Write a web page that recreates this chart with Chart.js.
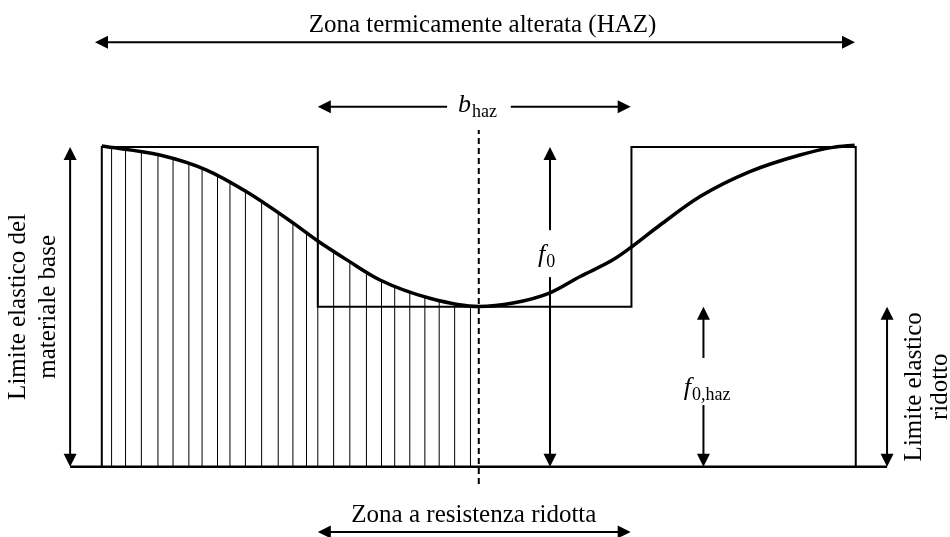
<!DOCTYPE html>
<html>
<head>
<meta charset="utf-8">
<title>Zona termicamente alterata (HAZ)</title>
<script src="https://cdn.jsdelivr.net/npm/chart.js@4.4.1/dist/chart.umd.min.js"></script>
<style>
  html, body { margin: 0; padding: 0; background: #fff; }
  #wrap { width: 950px; height: 537px; position: relative; }
  canvas { background: #fff; }
</style>
</head>
<body>
<div id="wrap"><canvas id="hazChart"></canvas></div>
<script>
// x: distance from weld axis, y: yield strength in % of f0
// nominal (design) profile: full strength outside, reduced in b_haz
const stepX = [-100, -100, -42.7, -42.7, 40.5, 40.5, 100, 100];
const stepY = [0, 100, 100, 50, 50, 100, 100, 0];

// actual strength across the HAZ
const curveX = [-100, -84.6, -72.2, -61.6, -49.2, -42.7, -35.0, -26.2, -13.0, 0, 9.1, 18.9, 26.9, 35.6, 40.6, 48.1, 58.7, 71.9, 85.2, 93.9, 99.7];
const curveY = [100.3, 97.5, 92.8, 86.0, 76.2, 70.6, 64.7, 58.4, 52.7, 50.1, 51.2, 54.4, 59.5, 64.7, 68.8, 75.6, 84.5, 92.3, 97.5, 99.9, 100.6];

// hatching under the left half of the curve
const hatchX = [-97.4, -93.7, -89.5, -85.1, -81.1, -76.9, -73.4, -69.3, -66.0, -61.9, -57.6, -53.2, -49.3, -45.7, -42.7, -38.5, -34.2, -29.8, -25.8, -22.3, -18.3, -14.3, -10.5, -6.4, -2.2];
const hatchTop = [99.7, 99.1, 98.4, 97.5, 96.3, 94.7, 93.4, 91.6, 89.7, 86.6, 83.4, 79.7, 76.6, 73.4, 70.6, 66.9, 63.8, 60.9, 58.4, 56.6, 54.7, 53.1, 51.9, 50.9, 50.3];

// plot extents (data units)
const xMin = -127, xMax = 125;
const yMin = -22, yMax = 146;

// dimension arrows (data units), gap = break in shaft for a label
const arrows = [
  { x1: -101.8, y1: 132.8, x2: 99.8, y2: 132.8 },
  { x1: -42.7, y1: 112.6, x2: 40.3, y2: 112.6, gap: [-8.4, 8.5] },
  { x1: 18.9, y1: 0, x2: 18.9, y2: 100, gap: [59.3, 74.0] },
  { x1: 59.6, y1: 0, x2: 59.6, y2: 50, gap: [19.3, 34.0] },
  { x1: -108.4, y1: 0, x2: -108.4, y2: 100 },
  { x1: 108.3, y1: 0, x2: 108.3, y2: 50 },
  { x1: -42.7, y1: -20.4, x2: 40.3, y2: -20.4 }
];

const texts = [
  { t: "Zona termicamente alterata (HAZ)", x: 1, y: 136 },
  { t: "Zona a resistenza ridotta", x: -1.3, y: -17.3 }
];
const rotTexts = [
  { lines: ["Limite elastico del", "materiale base"], x: [-120.4, -112.4], y: 50 },
  { lines: ["Limite elastico", "ridotto"], x: [117.3, 124.2], y: 25 }
];
const symbols = [
  { main: "b", sub: "haz", x: -5.5, y: 111 },
  { main: "f", sub: "0", x: 15.7, y: 64.1 },
  { main: "f", sub: "0,haz", x: 54.4, y: 22.4 }
];

const FONT = '"Liberation Serif", "Times New Roman", serif';
const toPts = (xs, ys) => xs.map((x, i) => ({ x: x, y: ys[i] }));

const datasets = [];
hatchX.forEach((x, i) => {
  datasets.push({
    data: [{ x: x, y: 0 }, { x: x, y: hatchTop[i] }],
    borderColor: "#000", borderWidth: 1, showLine: true, pointRadius: 0
  });
});
datasets.push({
  data: toPts(stepX, stepY),
  borderColor: "#000", borderWidth: 2, showLine: true, pointRadius: 0
});
datasets.push({
  data: [{ x: 0, y: -5.4 }, { x: 0, y: 105.3 }],
  borderColor: "#000", borderWidth: 2, borderDash: [6, 4], showLine: true, pointRadius: 0
});
datasets.push({
  data: [{ x: -108.4, y: 0 }, { x: 108.3, y: 0 }],
  borderColor: "#000", borderWidth: 2.5, showLine: true, pointRadius: 0
});
datasets.push({
  data: toPts(curveX, curveY),
  borderColor: "#000", borderWidth: 3.5, showLine: true, pointRadius: 0,
  cubicInterpolationMode: "monotone"
});

function head(ctx, x, y, ang) {
  ctx.save();
  ctx.translate(x, y);
  ctx.rotate(ang);
  ctx.beginPath();
  ctx.moveTo(0, 0);
  ctx.lineTo(-13, -6.5);
  ctx.lineTo(-13, 6.5);
  ctx.closePath();
  ctx.fill();
  ctx.restore();
}

const diagram = {
  id: "diagram",
  afterDatasetsDraw(chart) {
    const ctx = chart.ctx;
    const sx = chart.scales.x, sy = chart.scales.y;
    const px = v => sx.getPixelForValue(v);
    const py = v => sy.getPixelForValue(v);
    ctx.save();
    ctx.fillStyle = "#000";
    ctx.strokeStyle = "#000";
    ctx.lineWidth = 2;

    arrows.forEach(a => {
      const x1 = px(a.x1), y1 = py(a.y1), x2 = px(a.x2), y2 = py(a.y2);
      const ang = Math.atan2(y2 - y1, x2 - x1);
      const dx = Math.cos(ang) * 11, dy = Math.sin(ang) * 11;
      let segs = [[x1 + dx, y1 + dy, x2 - dx, y2 - dy]];
      if (a.gap) {
        if (a.x1 === a.x2) {
          segs = [[x1, y1 + dy, x1, py(a.gap[0])], [x1, py(a.gap[1]), x2, y2 - dy]];
        } else {
          segs = [[x1 + dx, y1, px(a.gap[0]), y1], [px(a.gap[1]), y1, x2 - dx, y2]];
        }
      }
      segs.forEach(s => {
        ctx.beginPath();
        ctx.moveTo(s[0], s[1]);
        ctx.lineTo(s[2], s[3]);
        ctx.stroke();
      });
      head(ctx, x2, y2, ang);
      head(ctx, x1, y1, ang + Math.PI);
    });

    ctx.textBaseline = "alphabetic";
    ctx.font = "25px " + FONT;
    ctx.textAlign = "center";
    texts.forEach(t => ctx.fillText(t.t, px(t.x), py(t.y)));

    rotTexts.forEach(r => {
      r.lines.forEach((line, i) => {
        ctx.save();
        ctx.translate(px(r.x[i]), py(r.y));
        ctx.rotate(-Math.PI / 2);
        ctx.textAlign = "center";
        ctx.font = "25px " + FONT;
        ctx.fillText(line, 0, 0);
        ctx.restore();
      });
    });

    ctx.textAlign = "left";
    symbols.forEach(s => {
      const x = px(s.x), y = py(s.y);
      ctx.font = "italic 26px " + FONT;
      ctx.fillText(s.main, x, y);
      const w = ctx.measureText(s.main).width;
      ctx.font = "18px " + FONT;
      ctx.fillText(s.sub, x + w + 1, y + 5);
    });
    ctx.restore();
  }
};

new Chart(document.getElementById("hazChart"), {
  type: "scatter",
  data: { datasets: datasets },
  options: {
    responsive: true,
    maintainAspectRatio: false,
    animation: false,
    events: [],
    layout: { padding: 0 },
    plugins: { legend: { display: false }, tooltip: { enabled: false } },
    scales: {
      x: { type: "linear", display: false, min: xMin, max: xMax },
      y: { type: "linear", display: false, min: yMin, max: yMax }
    }
  },
  plugins: [diagram]
});
</script>
</body>
</html>
